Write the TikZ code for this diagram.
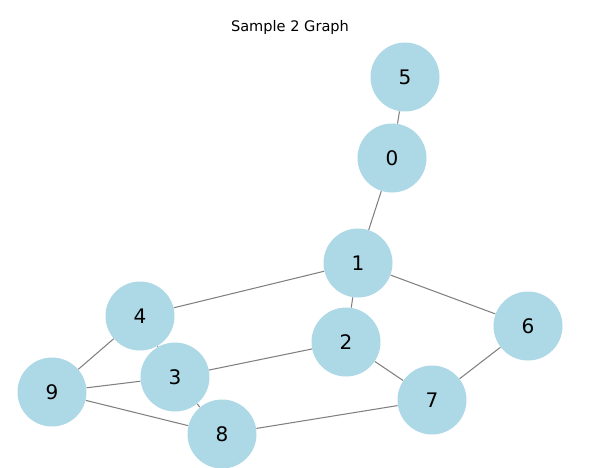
\documentclass[tikz,border=0pt]{standalone}
\usepackage{fontspec}
\setmainfont{DejaVu Sans}
\usepackage{xcolor}
\usetikzlibrary{positioning}
\definecolor{nodeblue}{HTML}{ADD8E6}
\definecolor{edgegray}{HTML}{808080}

\begin{document}
\begin{tikzpicture}[
  x=0.02cm, y=-0.02cm,
  vertex/.style={circle, fill=nodeblue, minimum size=1.38cm, inner sep=0pt, font=\fontsize{11.4}{13}\selectfont},
  link/.style={draw=edgegray, line width=0.6pt}
]
  \useasboundingbox (0,0) rectangle (590,467);
  \node[font=\fontsize{8.3}{10}\selectfont] (title) at (290,27) {Sample 2 Graph};

  % vertices at layout positions
  \node[vertex] (n5) at (405,77) {5};
  \node[vertex] (n0) at (392,158) {0};
  \node[vertex] (n1) at (358,263) {1};
  \node[vertex] (n4) at (140,316) {4};
  \node[vertex] (n2) at (346,342) {2};
  \node[vertex] (n6) at (528,326) {6};
  \node[vertex] (n3) at (175,377) {3};
  \node[vertex] (n9) at (52,392) {9};
  \node[vertex] (n7) at (432,400) {7};
  \node[vertex] (n8) at (222,434) {8};

  % edges
  \foreach \a/\b in {n5/n0, n0/n1, n1/n4, n1/n2, n1/n6, n4/n9, n4/n3, n2/n3, n2/n7, n6/n7, n9/n3, n9/n8, n3/n8, n8/n7}
    \draw[link] (\a) -- (\b);
\end{tikzpicture}
\end{document}
